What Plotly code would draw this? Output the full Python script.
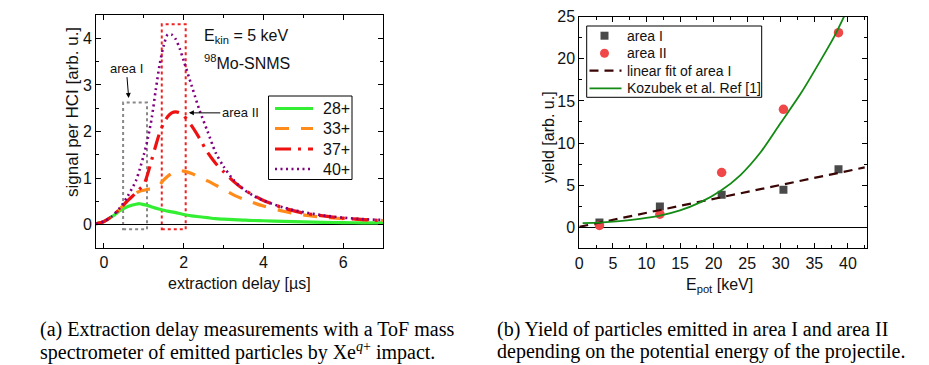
import plotly.graph_objects as go

# ---------------- panel (a): extraction delay scans ----------------
delay_us = [-0.2, 0.0, 0.2, 0.4, 0.6, 0.8, 0.9, 1.0, 1.1, 1.2, 1.3, 1.4, 1.5, 1.6,
            1.7, 1.8, 1.9, 2.0, 2.2, 2.4, 2.6, 2.8, 3.0, 3.25, 3.5, 3.75, 4.0,
            4.5, 5.0, 5.5, 6.0, 6.5, 7.0]

sig_28 = [0.02, 0.07, 0.17, 0.30, 0.39, 0.44, 0.45, 0.43, 0.41, 0.38, 0.355, 0.33,
          0.31, 0.29, 0.275, 0.26, 0.24, 0.22, 0.19, 0.17, 0.15, 0.13, 0.12, 0.11,
          0.10, 0.09, 0.085, 0.07, 0.06, 0.05, 0.045, 0.04, 0.04]

sig_33 = [0.02, 0.07, 0.18, 0.34, 0.52, 0.68, 0.72, 0.74, 0.76, 0.77, 0.80, 0.86,
          0.96, 1.04, 1.10, 1.14, 1.16, 1.15, 1.10, 1.02, 0.94, 0.85, 0.76, 0.64,
          0.55, 0.47, 0.40, 0.29, 0.21, 0.16, 0.13, 0.11, 0.09]

sig_37 = [0.02, 0.07, 0.18, 0.34, 0.52, 0.68, 0.77, 0.86, 1.10, 1.40, 1.70, 1.98,
          2.18, 2.32, 2.40, 2.42, 2.40, 2.34, 2.12, 1.85, 1.55, 1.32, 1.14, 0.93,
          0.76, 0.63, 0.52, 0.36, 0.25, 0.19, 0.14, 0.11, 0.09]

sig_40 = [0.02, 0.07, 0.18, 0.36, 0.62, 0.94, 1.20, 1.50, 1.85, 2.30, 2.90, 3.45,
          3.85, 4.08, 4.08, 3.98, 3.78, 3.52, 2.98, 2.45, 2.00, 1.55, 1.25, 0.96,
          0.76, 0.62, 0.52, 0.37, 0.27, 0.20, 0.15, 0.12, 0.10]

charge_labels = ["28+", "33+", "37+", "40+"]

# integration windows (µs) and their heights
area1_x = [0.48, 1.08]
area1_y = [-0.1, 2.62]
area2_x = [1.45, 2.05]
area2_y = [-0.1, 4.3]

# ---------------- panel (b): yields vs potential energy ----------------
epot_kev = [3.0, 12.0, 21.2, 30.4, 38.6]
yield_area1 = [0.55, 2.45, 3.85, 4.45, 6.9]
yield_area2 = [0.22, 1.55, 6.5, 14.0, 23.1]

fit_x = [0.0, 42.5]
fit_y = [0.05, 7.1]

kozubek_x = [0.5, 3, 6, 9, 12, 15, 18, 21, 24, 27, 30, 33, 36, 38, 39.6]
kozubek_y = [0.5, 0.55, 0.72, 1.0, 1.38, 2.0, 2.95, 4.3, 6.2, 8.9, 12.4, 15.9,
             19.9, 22.7, 25.3]

yield_labels = ["area I", "area II", "linear fit of area I", "Kozubek et al. Ref [1]"]

SANS = "Liberation Sans, Arial, sans-serif"
SERIF = "Liberation Serif, Times New Roman, serif"
W, H = 929, 365
TXT = "#111111"


def px_x(p):
    return p / W


def px_y(p):
    return 1 - p / H


fig = go.Figure()

styles = [
    dict(color="#33ee33", width=3.2, dash="solid"),
    dict(color="#ff8c1a", width=3.2, dash="14px,12px"),
    dict(color="#ee1111", width=3.2, dash="16px,7px,3px,7px"),
    dict(color="#800080", width=2.6, dash="2px,3.5px"),
]
series = [sig_28, sig_33, sig_37, sig_40]
for lbl, ys, st in zip(charge_labels, series, styles):
    fig.add_trace(go.Scatter(
        x=delay_us, y=ys, mode="lines", name=lbl, showlegend=False,
        line=dict(color=st["color"], width=st["width"], dash=st["dash"],
                  shape="spline", smoothing=0.8),
        xaxis="x", yaxis="y"))

sq_color, ci_color = "#4a4a4a", "#f04848"
fit_style = dict(color="#3a0505", width=2.2, dash="9px,6px")
koz_style = dict(color="#138a13", width=1.8)

fig.add_trace(go.Scatter(
    x=epot_kev, y=yield_area1, mode="markers", name=yield_labels[0], showlegend=False,
    marker=dict(symbol="square", size=8, color=sq_color),
    xaxis="x2", yaxis="y2"))
fig.add_trace(go.Scatter(
    x=epot_kev, y=yield_area2, mode="markers", name=yield_labels[1], showlegend=False,
    marker=dict(symbol="circle", size=9.5, color=ci_color),
    xaxis="x2", yaxis="y2"))
fig.add_trace(go.Scatter(
    x=fit_x, y=fit_y, mode="lines", name=yield_labels[2], showlegend=False,
    line=fit_style, xaxis="x2", yaxis="y2"))
fig.add_trace(go.Scatter(
    x=kozubek_x, y=kozubek_y, mode="lines", name=yield_labels[3], showlegend=False,
    line=dict(shape="spline", smoothing=0.8, **koz_style),
    xaxis="x2", yaxis="y2"))

axis_common = dict(
    showline=True, linecolor="black", linewidth=1, mirror="allticks",
    ticks="inside", ticklen=5, tickwidth=1, tickcolor="black", automargin=False,
    showgrid=False, tickfont=dict(family=SANS, size=16, color=TXT),
)


def minor(step):
    return dict(ticks="inside", ticklen=3, tickwidth=1, tickcolor="black",
                showgrid=False, dtick=step)


fig.update_layout(
    template="none",
    width=W, height=H,
    margin=dict(l=0, r=0, t=0, b=0, pad=0),
    paper_bgcolor="white", plot_bgcolor="white",
    font=dict(family=SANS, color=TXT),
    showlegend=False,
    xaxis=dict(domain=[px_x(96), px_x(383)], range=[-0.2, 7], dtick=2, tick0=0,
               zeroline=False, anchor="y", minor=minor(1), **axis_common),
    yaxis=dict(domain=[px_y(248), px_y(15)], range=[-0.5, 4.5], dtick=1, tick0=0,
               zeroline=True, zerolinecolor="black", zerolinewidth=1.2,
               anchor="x", minor=minor(0.5), **axis_common),
    xaxis2=dict(domain=[px_x(579.3), px_x(866.7)], range=[0, 42.8], dtick=5, tick0=0,
                zeroline=False, anchor="y2", minor=minor(2.5), **axis_common),
    yaxis2=dict(domain=[px_y(248.3), px_y(16.7)], range=[-2.5, 25], dtick=5, tick0=0,
                zeroline=True, zerolinecolor="black", zerolinewidth=1.2,
                anchor="x2", minor=minor(2.5), **axis_common),
)

# integration windows
fig.add_shape(type="rect", xref="x", yref="y",
              x0=area1_x[0], x1=area1_x[1], y0=area1_y[0], y1=area1_y[1],
              line=dict(color="#888888", width=2, dash="dot"), layer="below")
fig.add_shape(type="rect", xref="x", yref="y",
              x0=area2_x[0], x1=area2_x[1], y0=area2_y[0], y1=area2_y[1],
              line=dict(color="#ee2222", width=2, dash="dot"), layer="below")

ann = []


def paper_text(x, y, text, size, anchor="left", **kw):
    ann.append(dict(xref="paper", yref="paper", x=px_x(x), y=px_y(y), text=text,
                    showarrow=False, xanchor=anchor, yanchor="middle",
                    font=kw.pop("font", dict(family=SANS, size=size, color=TXT)), **kw))


# ---- legend of panel (a) ----
fig.add_shape(type="rect", xref="paper", yref="paper",
              x0=px_x(268.5), x1=px_x(352), y0=px_y(179.5), y1=px_y(96),
              line=dict(color="black", width=1), fillcolor="white")
for row_y, lbl, st in zip([108.5, 128.5, 149, 169], charge_labels, styles):
    fig.add_shape(type="line", xref="paper", yref="paper",
                  x0=px_x(275), x1=px_x(313), y0=px_y(row_y), y1=px_y(row_y),
                  line=dict(color=st["color"], width=st["width"], dash=st["dash"]))
    paper_text(321, row_y, lbl, 16)

# ---- legend of panel (b) ----
fig.add_shape(type="rect", xref="paper", yref="paper",
              x0=px_x(586.7), x1=px_x(761.7), y0=px_y(97.3), y1=px_y(26),
              line=dict(color="black", width=1), fillcolor="white")
leg_rows = [35.7, 53.3, 70.7, 88.3]
fig.add_shape(type="rect", xref="paper", yref="paper",
              x0=px_x(600.5), x1=px_x(608.5), y0=px_y(leg_rows[0] + 4),
              y1=px_y(leg_rows[0] - 4), line=dict(width=0), fillcolor=sq_color)
fig.add_shape(type="circle", xref="paper", yref="paper",
              x0=px_x(600), x1=px_x(609), y0=px_y(leg_rows[1] + 4.5),
              y1=px_y(leg_rows[1] - 4.5), line=dict(width=0), fillcolor=ci_color)
fig.add_shape(type="line", xref="paper", yref="paper",
              x0=px_x(589.5), x1=px_x(621.5), y0=px_y(leg_rows[2]), y1=px_y(leg_rows[2]),
              line=fit_style)
fig.add_shape(type="line", xref="paper", yref="paper",
              x0=px_x(589.5), x1=px_x(621.5), y0=px_y(leg_rows[3]), y1=px_y(leg_rows[3]),
              line=koz_style)
for row_y, lbl in zip(leg_rows, yield_labels):
    paper_text(624.5, row_y, lbl, 14)

# ---- area markers ----
ann.append(dict(xref="x", yref="y", x=0.62, y=2.72, axref="x", ayref="y",
                ax=0.56, ay=3.36, text="area I", showarrow=True, arrowhead=2,
                arrowsize=1, arrowwidth=1, arrowcolor="black", standoff=0,
                font=dict(family=SANS, size=13, color=TXT)))
ann.append(dict(xref="x", yref="y", x=2.13, y=2.4, axref="x", ayref="y",
                ax=3.42, ay=2.4, text="area II", showarrow=True, arrowhead=2,
                arrowsize=1, arrowwidth=1, arrowcolor="black", standoff=0,
                font=dict(family=SANS, size=13, color=TXT)))

paper_text(202, 36, "E<sub>kin</sub> = 5 keV", 16)
paper_text(202, 62, "<sup>98</sup>Mo-SNMS", 16)

# ---- axis titles ----
paper_text(239, 283, "extraction delay [µs]", 16, anchor="center")
paper_text(72, 112, "signal per HCI [arb. u.]", 17, anchor="center", textangle=-90)
paper_text(719, 285, "E<sub>pot</sub> [keV]", 16, anchor="center")
paper_text(548, 137, "yield [arb. u.]", 16, anchor="center", textangle=-90)

# ---- captions ----
cap_font = dict(family=SERIF, size=20, color="black")
captions = [
    (38, 329, "(a) Extraction delay measurements with a ToF mass"),
    (38, 351, "spectrometer of emitted particles by Xe<sup><i>q</i>+</sup> impact."),
    (495, 329, "(b) Yield of particles emitted in area I and area II"),
    (495, 351, "depending on the potential energy of the projectile."),
]
for cx, cy, txt in captions:
    paper_text(cx, cy, txt, 20, font=cap_font)

fig.update_layout(annotations=ann)

fig.write_html("out.html")
